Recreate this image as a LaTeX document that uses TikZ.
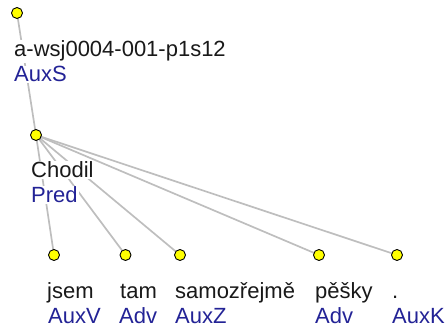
\documentclass[tikz,border=0pt]{standalone}
\usepackage{fontspec}
\setmainfont{Liberation Sans}
\definecolor{afun}{RGB}{35,35,150}
\definecolor{edge}{RGB}{190,190,190}
\definecolor{dot}{RGB}{255,255,0}
\tikzset{
  tnode/.style={circle,draw=black,fill=dot,line width=0.9pt,minimum size=11pt,inner sep=0pt},
  tedge/.style={draw=edge,line width=1.7pt},
  word/.style={anchor=base west,fill=white,inner sep=1pt,text=black!90,font=\fontsize{22}{25}\selectfont},
  fn/.style={anchor=base west,fill=white,inner sep=1pt,text=afun,font=\fontsize{22}{25}\selectfont},
}
\begin{document}
\begin{tikzpicture}[x=1pt,y=-1pt]
\useasboundingbox (0,0) rectangle (445,331);
% node positions
\coordinate (r) at (17,13);
\coordinate (c) at (36,135);
\coordinate (n1) at (54,255);
\coordinate (n2) at (125.5,255);
\coordinate (n3) at (180,255);
\coordinate (n4) at (319,255);
\coordinate (n5) at (397,255);
% edges
\draw[tedge] (r) -- (c);
\foreach \n in {n1,n2,n3,n4,n5} \draw[tedge] (c) -- (\n);
% labels
\node[word] (rw) at (13,57) {a-wsj0004-001-p1s12};
\node[fn] (rf) at (13,82) {AuxS};
\node[word] (cw) at (30,178) {Chodil};
\node[fn] (cf) at (30,203) {Pred};
\node[word] (w1) at (46,299) {jsem};
\node[fn] (f1) at (47,324) {AuxV};
\node[word] (w2) at (119,299) {tam};
\node[fn] (f2) at (118,324) {Adv};
\node[word] (w3) at (174,299) {samozřejmě};
\node[fn] (f3) at (174,324) {AuxZ};
\node[word] (w4) at (314,299) {pěšky};
\node[fn] (f4) at (314,324) {Adv};
\node[word] (w5) at (391,299) {.};
\node[fn] (f5) at (391,324) {AuxK};
% dots
\foreach \n in {r,c,n1,n2,n3,n4,n5} \node[tnode] (d\n) at (\n) {};
\end{tikzpicture}
\end{document}
